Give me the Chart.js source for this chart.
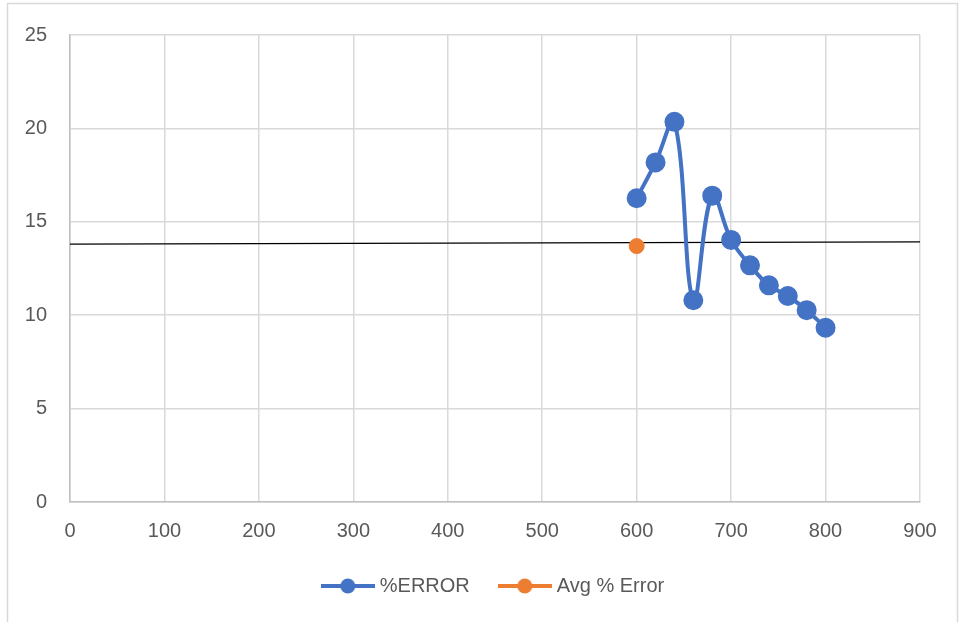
<!DOCTYPE html>
<html lang="en">
<head>
    <meta charset="UTF-8">
    <title>%ERROR vs X</title>
    <script src="https://cdn.jsdelivr.net/npm/chart.js"></script>
    <style>
        body {
            margin: 0;
            background: white;
        }
        #chart-container {
            position: relative;
            width: 960px;
            height: 622px;
        }
    </style>
</head>
<body>

<div id="chart-container">
    <canvas id="errorChart"></canvas>
</div>

<script>
    // Measured points
    const xValues = [600, 620, 640, 660, 680, 700, 720, 740, 760, 780, 800];
    const errorValues = [16.26, 18.18, 20.35, 10.8, 16.4, 14.03, 12.67, 11.6, 11.03, 10.27, 9.33];

    // Average error marker
    const avgX = [600];
    const avgValues = [13.7];

    // Straight reference line across the whole range
    const lineX = [0, 900];
    const lineValues = [13.8, 13.92];

    const BLUE = '#4472C4';
    const ORANGE = '#ED7D31';
    const TEXT = '#595959';
    const FONT = { family: '"Liberation Sans", Arial, sans-serif', size: 20 };

    // legend icon: short line with a dot in the middle
    function legendIcon(color, lineW) {
        const c = document.createElement('canvas');
        c.width = 54;
        c.height = 18;
        const g = c.getContext('2d');
        g.strokeStyle = color;
        g.lineWidth = lineW;
        g.beginPath();
        g.moveTo(0, 9);
        g.lineTo(54, 9);
        g.stroke();
        g.fillStyle = color;
        g.beginPath();
        g.arc(27, 9, 7.5, 0, Math.PI * 2);
        g.fill();
        return c;
    }

    const frame = {
        id: 'frame',
        afterLayout(chart) {
            // center the legend under the plot area, not the whole canvas
            const lg = chart.legend;
            const shift = (chart.chartArea.left + chart.chartArea.right) / 2 - (lg.left + lg.right) / 2;
            lg.left += shift;
            lg.right += shift;
        },
        beforeDraw(chart) {
            const ctx = chart.ctx;
            ctx.save();
            ctx.fillStyle = 'white';
            ctx.fillRect(0, 0, chart.width, chart.height);
            ctx.strokeStyle = '#d9d9d9';
            ctx.lineWidth = 1.5;
            ctx.strokeRect(7.5, 3.5, 950, 700);
            ctx.restore();
        }
    };

    const ctx = document.getElementById('errorChart').getContext('2d');
    new Chart(ctx, {
        type: 'scatter',
        data: {
            datasets: [{
                label: '%ERROR',
                data: xValues.map((x, i) => ({ x: x, y: errorValues[i] })),
                showLine: true,
                borderColor: BLUE,
                backgroundColor: BLUE,
                borderWidth: 4,
                tension: 0.4,
                pointRadius: 8,
                pointHoverRadius: 8,
                icon: legendIcon(BLUE, 4)
            }, {
                label: 'Avg % Error',
                data: avgX.map((x, i) => ({ x: x, y: avgValues[i] })),
                borderColor: ORANGE,
                backgroundColor: ORANGE,
                pointRadius: 7.5,
                icon: legendIcon(ORANGE, 4)
            }, {
                label: 'line',
                data: lineX.map((x, i) => ({ x: x, y: lineValues[i] })),
                showLine: true,
                borderColor: '#000000',
                borderWidth: 1.2,
                pointRadius: 0
            }]
        },
        options: {
            responsive: true,
            maintainAspectRatio: false,
            animation: false,
            layout: {
                padding: { left: 0, top: 32, right: 40, bottom: 16 }
            },
            plugins: {
                tooltip: { enabled: false },
                legend: {
                    position: 'bottom',
                    labels: {
                        color: TEXT,
                        font: FONT,
                        usePointStyle: true,
                        pointStyleWidth: 44,
                        padding: 33,
                        generateLabels(chart) {
                            return chart.data.datasets
                                .map((ds, i) => ({
                                    text: ds.label,
                                    pointStyle: ds.icon,
                                    fontColor: TEXT,
                                    datasetIndex: i,
                                    hidden: false,
                                    lineWidth: 0
                                }))
                                .filter(item => chart.data.datasets[item.datasetIndex].icon);
                        }
                    }
                }
            },
            scales: {
                x: {
                    type: 'linear',
                    min: 0,
                    max: 900,
                    ticks: { stepSize: 100, color: TEXT, font: FONT, padding: 17 },
                    grid: { color: '#d9d9d9', lineWidth: 1.5, drawTicks: false },
                    border: { color: '#bfbfbf', width: 1.5 },
                    afterFit(scale) { scale.height = 41; }
                },
                y: {
                    min: 0,
                    max: 25,
                    ticks: { stepSize: 5, color: TEXT, font: FONT, padding: 23 },
                    grid: { color: '#d9d9d9', lineWidth: 1.5, drawTicks: false },
                    border: { color: '#bfbfbf', width: 1.5 },
                    afterFit(scale) { scale.width = 70; }
                }
            }
        },
        plugins: [frame]
    });
</script>

</body>
</html>
